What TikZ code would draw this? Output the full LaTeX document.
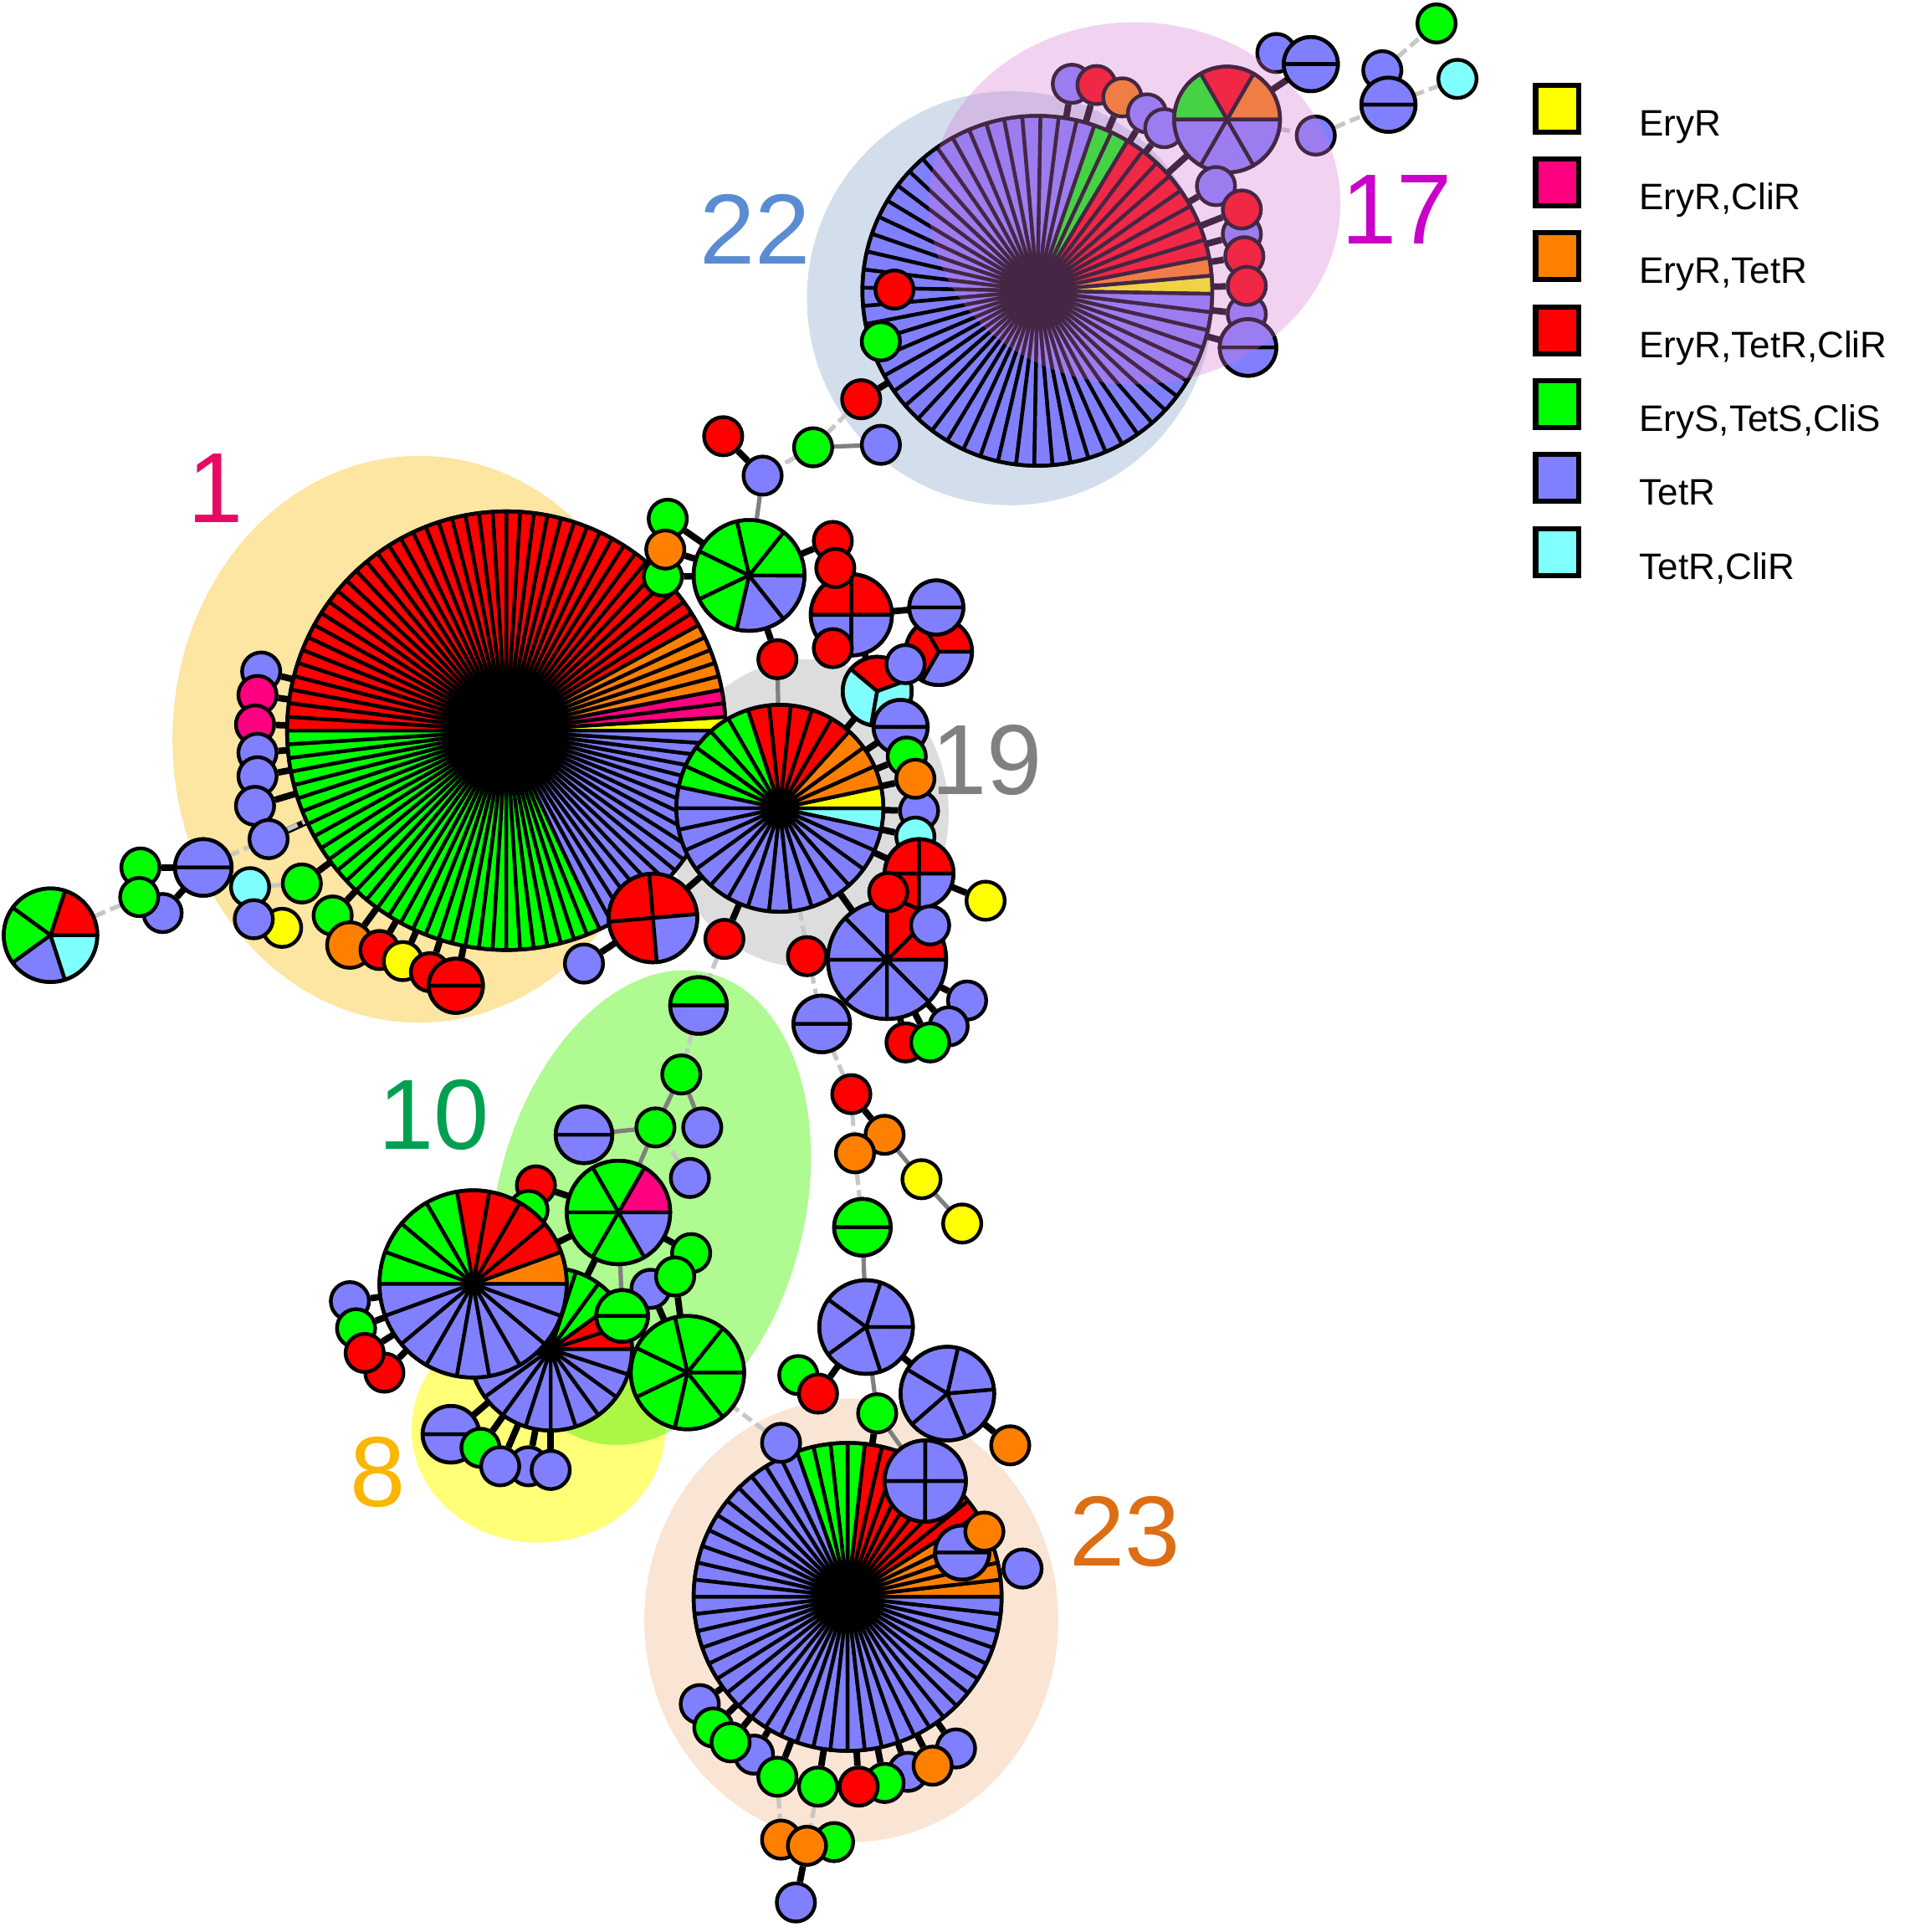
\documentclass[tikz,border=0pt]{standalone}
\usepackage{fontspec}
\setmainfont{Liberation Sans}

\pgfdeclarelayer{blobs}
\pgfdeclarelayer{links}
\pgfdeclarelayer{tint}
\pgfsetlayers{blobs,links,main,tint}

\definecolor{eryr}{RGB}{255,255,0}
\definecolor{erycli}{RGB}{255,0,128}
\definecolor{erytet}{RGB}{255,128,0}
\definecolor{erytetcli}{RGB}{255,0,0}
\definecolor{sens}{RGB}{0,255,0}
\definecolor{tetr}{RGB}{128,128,255}
\definecolor{tetcli}{RGB}{128,255,255}

\definecolor{blobone}{RGB}{253,229,162}
\definecolor{blobtt}{RGB}{210,222,235}
\definecolor{blobst}{RGB}{212,121,212}
\definecolor{blobnt}{RGB}{221,221,221}
\definecolor{blobten}{RGB}{175,250,145}
\definecolor{blobeight}{RGB}{255,255,120}
\definecolor{blobmix}{RGB}{172,246,70}
\definecolor{blobtth}{RGB}{250,229,212}

\definecolor{labone}{RGB}{230,10,100}
\definecolor{labtt}{RGB}{90,140,210}
\definecolor{labst}{RGB}{200,0,200}
\definecolor{labnt}{RGB}{128,128,128}
\definecolor{labten}{RGB}{0,160,80}
\definecolor{labeight}{RGB}{250,182,0}
\definecolor{labtth}{RGB}{222,110,20}

% name, centre, radius, start angle, slices, colour/count list
\newcommand{\pienode}[6]{%
  \node[pieshape,minimum size={#3*0.02cm}] (#1) at (#2) {};
  \pgfmathsetmacro{\piestep}{360/#5}%
  \xdef\pieangle{#4}%
  \foreach \col/\cnt in {#6}{%
    \foreach \k in {1,...,\cnt}{%
      \filldraw[slice,fill=\col] (#2) -- ++(\pieangle:#3) arc[start angle=\pieangle,delta angle=\piestep,radius=#3] -- cycle;
      \pgfmathsetmacro{\nextangle}{\pieangle+\piestep}%
      \xdef\pieangle{\nextangle}%
    }%
  }%
  \draw[slice] (#2) circle[radius=#3];
}

\begin{document}
\begin{tikzpicture}[x=0.01cm,y=0.01cm,
iso/.style={circle,draw,fill=#1,line width=0.85pt,inner sep=0pt,minimum size=0.31cm},
pieshape/.style={circle,inner sep=0pt,outer sep=0pt},
slice/.style={draw=black,line width=0.85pt,line join=round},
link/.style={line width=1.5pt,black},
near/.style={line width=1pt,black!50},
far/.style={line width=1pt,black!22,dash pattern=on 2.5pt off 1.2pt},
cc/.style={font=\fontsize{23}{23}\selectfont,inner sep=0pt},
legbox/.style={draw,line width=1.2pt,minimum width=0.35cm,minimum height=0.38cm,inner sep=0pt},
legtext/.style={font=\fontsize{8.5}{10}\selectfont,inner sep=0pt,anchor=base west}]

\useasboundingbox (0,0) rectangle (1546,-1568);

\begin{pgfonlayer}{blobs}
\fill[blobone] (340,-600) ellipse[x radius=200,y radius=230];
\fill[blobnt] (655,-660) ellipse[x radius=115,y radius=125];
\fill[blobtt] (820,-242) ellipse[x radius=165,y radius=168];
\fill[blobeight] (437,-1160) ellipse[x radius=103,y radius=92];
\fill[blobten,rotate around={-14:(528,-980)}] (528,-980) ellipse[x radius=125,y radius=196];
\begin{scope}
\clip (437,-1160) ellipse[x radius=103,y radius=92];
\fill[blobmix,rotate around={-14:(528,-980)}] (528,-980) ellipse[x radius=125,y radius=196];
\end{scope}
\fill[blobtth] (691,-1315) ellipse[x radius=168,y radius=180];
\end{pgfonlayer}

% cluster 22 and 17
\pienode{p22}{842,-236}{142}{-1}{60}{eryr/1,erytet/1,erytetcli/8,sens/2,tetr/48}
\node[iso=tetr] (t1) at (870,-68) {};
\node[iso=erytetcli] (t2) at (890,-69) {};
\node[iso=erytet] (t3) at (911,-79) {};
\node[iso=tetr] (t4) at (931,-92) {};
\node[iso=tetr] (t5) at (945,-104) {};
\pienode{p17}{996,-97}{43}{0}{6}{erytet/1,erytetcli/1,sens/1,tetr/3}
\node[iso=tetr] (c1) at (987,-151) {};
\node[iso=tetr] (c3) at (1008,-190) {};
\node[iso=tetr] (c6) at (1012,-255) {};
\pienode{c7}{1013,-282}{23}{0}{2}{tetr/2}
\node[iso=erytetcli] (c2) at (1008,-170) {};
\node[iso=erytetcli] (c4) at (1010,-208) {};
\node[iso=erytetcli] (c5) at (1012,-232) {};
\node[iso=erytetcli] (l1) at (726,-235) {};
\node[iso=sens] (l2) at (715,-277) {};
\node[iso=erytetcli] (l3) at (699,-324) {};
\node[iso=erytetcli] (f1) at (587,-354) {};
\node[iso=tetr] (f2) at (619,-386) {};
\node[iso=sens] (f3) at (660,-363) {};
\node[iso=tetr] (f4) at (715,-361) {};
\node[iso=tetr] (u1) at (1036,-43) {};
\pienode{u2}{1064,-52}{22}{0}{2}{tetr/2}
\node[iso=sens] (u3) at (1166,-19) {};
\node[iso=tetcli] (u4) at (1183,-64) {};
\node[iso=tetr] (u5) at (1122,-57) {};
\pienode{u6}{1127,-85}{22}{0}{2}{tetr/2}
\node[iso=tetr] (u7) at (1068,-110) {};

% cluster 1
\pienode{p1}{411,-593}{178}{0}{100}{eryr/1,erycli/2,erytet/5,erytetcli/42,sens/32,tetr/18}
\node[iso=tetr] (a1) at (212,-545) {};
\node[iso=erycli] (a2) at (209,-564) {};
\node[iso=erycli] (a3) at (207,-588) {};
\node[iso=tetr] (a4) at (209,-611) {};
\node[iso=tetr] (a5) at (209,-630) {};
\node[iso=tetr] (a6) at (207,-654) {};
\node[iso=tetr] (a7) at (218,-681) {};
\pienode{a8}{165,-704}{23}{0}{2}{tetr/2}
\node[iso=sens] (a9) at (114,-704) {};
\node[iso=tetr] (a11) at (132,-741) {};
\node[iso=sens] (a10) at (113,-728) {};
\pienode{a12}{41,-759}{38}{0}{5}{erytetcli/1,sens/2,tetr/1,tetcli/1}
\node[iso=tetcli] (b1) at (203,-720) {};
\node[iso=eryr] (b3) at (229,-753) {};
\node[iso=tetr] (b2) at (206,-746) {};
\node[iso=sens] (b4) at (245,-717) {};
\node[iso=sens] (b5) at (270,-743) {};
\node[iso=erytet,minimum size=0.37cm] (b6) at (284,-767) {};
\node[iso=erytetcli] (b7) at (308,-771) {};
\node[iso=eryr] (b8) at (327,-780) {};
\node[iso=erytetcli] (b9) at (349,-789) {};
\pienode{b10}{370,-800}{22}{0}{2}{erytetcli/2}
\node[iso=tetr] (b11) at (474,-782) {};
\pienode{b12}{530,-745}{36}{5}{4}{erytetcli/3,tetr/1}
\node[iso=sens] (d1) at (542,-421) {};
\node[iso=sens] (d3) at (538,-468) {};
\node[iso=erytet] (d2) at (540,-446) {};

% cluster 19
\pienode{p19}{633,-656}{84}{-12}{30}{tetcli/1,eryr/1,erytet/3,erytetcli/5,sens/5,tetr/15}
\pienode{g7}{608,-467}{45}{-103}{7}{tetr/2,sens/5}
\node[iso=erytetcli] (e1) at (676,-439) {};
\pienode{rp4}{691,-499}{33}{0}{4}{erytetcli/2,tetr/2}
\node[iso=erytetcli] (e2) at (678,-461) {};
\node[iso=erytetcli] (e3) at (676,-526) {};
\node[iso=erytetcli] (e4) at (631,-535) {};
\pienode{e6}{762,-529}{27}{0}{3}{erytetcli/2,tetr/1}
\pienode{e5}{760,-493}{22}{0}{2}{tetr/2}
\pienode{e8}{712,-561}{28}{20}{3}{erytetcli/1,tetcli/2}
\node[iso=tetr] (e7) at (735,-539) {};
\pienode{e9}{731,-590}{22}{0}{2}{tetr/2}
\node[iso=sens] (e10) at (736,-614) {};
\node[iso=tetr] (e12) at (746,-658) {};
\node[iso=erytet] (e11) at (743,-632) {};
\node[iso=tetcli] (e13) at (743,-679) {};
\pienode{e14}{746,-709}{28}{0}{4}{erytetcli/3,tetr/1}
\node[iso=eryr] (e16) at (800,-731) {};
\pienode{e18}{720,-779}{48}{0}{8}{erytetcli/2,tetr/6}
\node[iso=erytetcli] (e15) at (721,-724) {};
\node[iso=tetr] (e17) at (755,-751) {};
\node[iso=erytetcli] (e19) at (655,-776) {};
\pienode{e20}{667,-831}{23}{0}{2}{tetr/2}
\node[iso=tetr] (e21) at (785,-812) {};
\node[iso=tetr] (e22) at (770,-833) {};
\node[iso=erytetcli] (e23) at (735,-846) {};
\node[iso=sens] (e24) at (755,-846) {};
\node[iso=erytetcli] (e25) at (588,-762) {};

% chain towards cluster 23
\node[iso=erytetcli] (h1) at (691,-888) {};
\node[iso=erytet] (h2) at (718,-921) {};
\node[iso=erytet] (h3) at (694,-936) {};
\node[iso=eryr] (h4) at (748,-957) {};
\node[iso=eryr] (h5) at (781,-993) {};
\pienode{h6}{700,-996}{23}{0}{2}{sens/2}

% cluster 10 and 8
\pienode{k1}{567,-816}{23}{0}{2}{sens/1,tetr/1}
\node[iso=sens] (k2) at (553,-872) {};
\node[iso=sens] (k3) at (532,-915) {};
\node[iso=tetr] (k4) at (570,-915) {};
\pienode{k5}{474,-921}{23}{0}{2}{tetr/2}
\node[iso=tetr] (k6) at (560,-956) {};
\pienode{k7}{502,-984}{42}{0}{6}{erycli/1,sens/4,tetr/1}
\node[iso=erytetcli] (k8) at (435,-962) {};
\node[iso=sens] (k9) at (429,-982) {};
\node[iso=tetr] (k15) at (528,-1046) {};
\node[iso=sens] (k13) at (561,-1017) {};
\node[iso=sens] (k14) at (548,-1036) {};
\pienode{k11}{447,-1095}{66}{0}{20}{erytetcli/2,sens/8,tetr/10}
\pienode{k10}{384,-1042}{76}{0}{18}{erytet/1,erytetcli/4,sens/4,tetr/9}
\pienode{k12}{505,-1068}{21}{0}{2}{sens/2}
\pienode{k16}{558,-1114}{46}{0}{7}{sens/7}
\node[iso=tetr] (k17) at (284,-1056) {};
\node[iso=sens] (k18) at (289,-1078) {};
\node[iso=erytetcli] (k20) at (312,-1114) {};
\node[iso=erytetcli] (k19) at (296,-1098) {};
\pienode{k21}{366,-1164}{23}{0}{2}{tetr/2}
\node[iso=sens] (k22) at (390,-1175) {};
\node[iso=tetr] (k24) at (429,-1190) {};
\node[iso=tetr] (k23) at (406,-1190) {};
\node[iso=tetr] (k25) at (447,-1193) {};

% cluster 23
\pienode{m1}{703,-1077}{38}{0}{5}{tetr/5}
\node[iso=sens] (m2) at (648,-1116) {};
\node[iso=erytetcli] (m3) at (664,-1131) {};
\node[iso=sens] (m4) at (712,-1147) {};
\pienode{m5}{769,-1131}{38}{5}{5}{tetr/5}
\node[iso=erytet] (m6) at (820,-1173) {};
\pienode{p23}{688,-1296}{125}{0}{56}{erytet/5,erytetcli/8,sens/4,tetr/39}
\pienode{m7}{751,-1202}{33}{0}{4}{tetr/4}
\node[iso=tetr] (m8) at (634,-1171) {};
\node[iso=tetr] (m11) at (830,-1273) {};
\pienode{m10}{781,-1260}{22}{0}{2}{tetr/2}
\node[iso=erytet] (m9) at (799,-1243) {};
\node[iso=tetr] (n1) at (568,-1383) {};
\node[iso=tetr] (n4) at (612,-1424) {};
\node[iso=sens] (n2) at (579,-1402) {};
\node[iso=sens] (n3) at (593,-1414) {};
\node[iso=sens] (n5) at (631,-1442) {};
\node[iso=sens] (n6) at (664,-1450) {};
\node[iso=tetr] (n9) at (737,-1438) {};
\node[iso=sens] (n8) at (718,-1447) {};
\node[iso=tetr] (n11) at (776,-1419) {};
\node[iso=erytet] (n10) at (757,-1433) {};
\node[iso=erytetcli] (n7) at (697,-1450) {};
\node[iso=erytet] (n12) at (634,-1493) {};
\node[iso=sens] (n14) at (677,-1495) {};
\node[iso=erytet] (n13) at (655,-1498) {};
\node[iso=tetr] (n15) at (646,-1544) {};

\begin{pgfonlayer}{links}
\foreach \a/\b in {t1/p22,t2/p22,t3/p22,t4/p22,t5/p22,p17/p22,c1/p22,c2/p22,c3/p22,c4/p22,c5/p22,c6/p22,c7/p22,
  l1/p22,l2/p22,l3/p22,f1/f2,p17/u2,u1/u2,u5/u6,
  a1/p1,a2/p1,a3/p1,a4/p1,a5/p1,a6/p1,a7/p1,a8/a9,a8/a11,a9/a10,b1/b2,b2/b3,
  b4/p1,b5/p1,b6/p1,b7/p1,b8/p1,b9/p1,b10/p1,b11/b12,b12/p1,b12/p19,d1/g7,d2/g7,d3/g7,d2/p1,d3/p1,
  e1/g7,e2/rp4,e3/rp4,e4/g7,rp4/e5,e5/e6,e6/e7,e8/rp4,p19/e8,p19/e9,p19/e10,p19/e11,p19/e12,p19/e13,p19/e14,
  e14/e15,e14/e16,e17/e18,p19/e18,e18/e19,e18/e21,e18/e22,e18/e23,e18/e24,p19/e25,h1/h2,h2/h3,
  k8/k7,k9/k10,k7/k10,k7/k11,k17/k10,k18/k10,k19/k10,k20/k10,k21/k11,k22/k11,k23/k11,k24/k11,k25/k11,
  k13/k7,k14/k16,k12/k16,k15/k16,
  m1/m3,m2/m3,m1/m5,m5/m6,m4/p23,m7/p23,m8/p23,m10/p23,m9/m10,m11/p23,
  n1/p23,n2/p23,n3/p23,n4/p23,n5/p23,n6/p23,n7/p23,n8/p23,n9/p23,n10/p23,n11/p23,n12/n13,n13/n14,n13/n15}
  \draw[link] (\a) -- (\b);
\foreach \a/\b in {f3/f4,f2/g7,e4/p19,h2/h4,h4/h5,k2/k3,k2/k4,k3/k5,k3/k7,k7/k12,m1/m4,m4/m7,h6/m1}
  \draw[near] (\a) -- (\b);
\foreach \a/\b in {l3/f3,f3/f2,p17/u7,u7/u6,u6/u4,u5/u3,a10/a12,a8/p1,b1/b4,p19/e20,e20/h1,h1/h3,h3/h6,
  e25/k1,k1/k2,k6/k3,m8/k16,n6/n13,n5/n12}
  \draw[far] (\a) -- (\b);
\end{pgfonlayer}

\begin{pgfonlayer}{tint}
\fill[blobst,opacity=0.33] (921,-165) ellipse[x radius=167,y radius=147];
\end{pgfonlayer}

\node[cc,text=labone] (lab1) at (175,-396) {1};
\node[cc,text=labtt] (lab22) at (613,-186) {22};
\node[cc,text=labst] (lab17) at (1134,-170) {17};
\node[cc,text=labnt] (lab19) at (801,-617) {19};
\node[cc,text=labten] (lab10) at (352,-905) {10};
\node[cc,text=labeight] (lab8) at (307,-1195) {8};
\node[cc,text=labtth] (lab23) at (913,-1243) {23};

\foreach \col/\txt [count=\i from 0] in {eryr/EryR,erycli/{EryR,CliR},erytet/{EryR,TetR},erytetcli/{EryR,TetR,CliR},sens/{EryS,TetS,CliS},tetr/TetR,tetcli/{TetR,CliR}}{
  \node[legbox,fill=\col] (key\i) at (1264,-88-60*\i) {};
  \node[legtext] (leg\i) at (1330,-110-60*\i) {\txt};
}
\end{tikzpicture}
\end{document}
